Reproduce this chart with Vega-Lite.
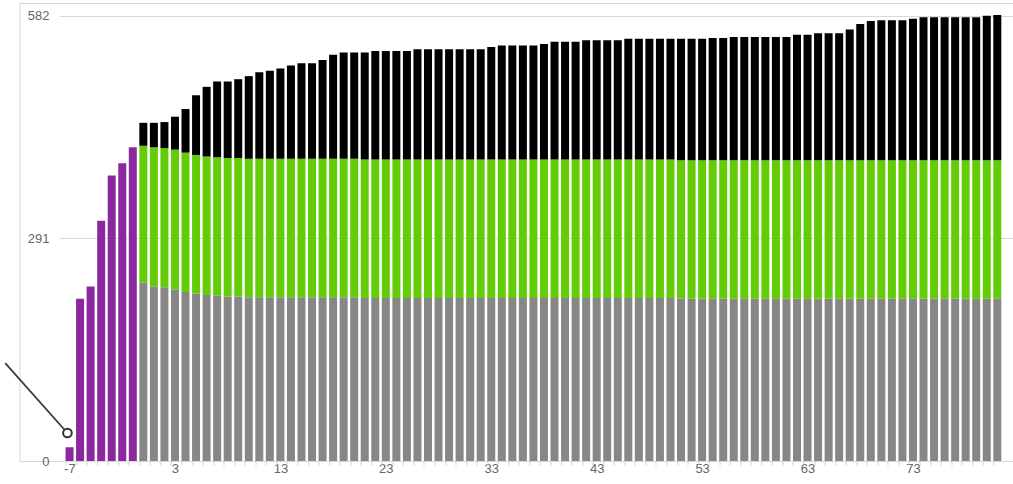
{
  "$schema": "https://vega.github.io/schema/vega-lite/v6.json",
  "width": 993.5,
  "height": 458,
  "autosize": {"type": "none"},
  "padding": {"left": 19.5, "top": 3, "right": 0, "bottom": 23},
  "config": {"view": {"stroke": "#d6d6d6", "strokeWidth": 1}, "font": "Liberation Sans"},
  "datasets": {
    "bars": [
      {"x":-7,"s":"pre","v":18},{"x":-6,"s":"pre","v":212},{"x":-5,"s":"pre","v":228},{"x":-4,"s":"pre","v":314},{"x":-3,"s":"pre","v":373},{"x":-2,"s":"pre","v":389},{"x":-1,"s":"pre","v":410},
      {"x":0,"s":"base","v":233},{"x":0,"s":"mid","v":179},{"x":0,"s":"top","v":30},
      {"x":1,"s":"base","v":228},{"x":1,"s":"mid","v":182},{"x":1,"s":"top","v":32},
      {"x":2,"s":"base","v":227},{"x":2,"s":"mid","v":182},{"x":2,"s":"top","v":34},
      {"x":3,"s":"base","v":224},{"x":3,"s":"mid","v":183},{"x":3,"s":"top","v":43},
      {"x":4,"s":"base","v":221},{"x":4,"s":"mid","v":182},{"x":4,"s":"top","v":57},
      {"x":5,"s":"base","v":219},{"x":5,"s":"mid","v":181},{"x":5,"s":"top","v":78},
      {"x":6,"s":"base","v":217},{"x":6,"s":"mid","v":181},{"x":6,"s":"top","v":91},
      {"x":7,"s":"base","v":216},{"x":7,"s":"mid","v":181},{"x":7,"s":"top","v":99},
      {"x":8,"s":"base","v":215},{"x":8,"s":"mid","v":181},{"x":8,"s":"top","v":100},
      {"x":9,"s":"base","v":215},{"x":9,"s":"mid","v":181},{"x":9,"s":"top","v":103},
      {"x":10,"s":"base","v":214},{"x":10,"s":"mid","v":181},{"x":10,"s":"top","v":108},
      {"x":11,"s":"base","v":214},{"x":11,"s":"mid","v":181},{"x":11,"s":"top","v":113},
      {"x":12,"s":"base","v":214},{"x":12,"s":"mid","v":181},{"x":12,"s":"top","v":115},
      {"x":13,"s":"base","v":214},{"x":13,"s":"mid","v":181},{"x":13,"s":"top","v":118},
      {"x":14,"s":"base","v":214},{"x":14,"s":"mid","v":181},{"x":14,"s":"top","v":122},
      {"x":15,"s":"base","v":214},{"x":15,"s":"mid","v":181},{"x":15,"s":"top","v":125},
      {"x":16,"s":"base","v":214},{"x":16,"s":"mid","v":181},{"x":16,"s":"top","v":125},
      {"x":17,"s":"base","v":214},{"x":17,"s":"mid","v":181},{"x":17,"s":"top","v":129},
      {"x":18,"s":"base","v":214},{"x":18,"s":"mid","v":181},{"x":18,"s":"top","v":136},
      {"x":19,"s":"base","v":214},{"x":19,"s":"mid","v":181},{"x":19,"s":"top","v":139},
      {"x":20,"s":"base","v":214},{"x":20,"s":"mid","v":181},{"x":20,"s":"top","v":139},
      {"x":21,"s":"base","v":213},{"x":21,"s":"mid","v":181},{"x":21,"s":"top","v":140},
      {"x":22,"s":"base","v":213},{"x":22,"s":"mid","v":181},{"x":22,"s":"top","v":142},
      {"x":23,"s":"base","v":213},{"x":23,"s":"mid","v":181},{"x":23,"s":"top","v":142},
      {"x":24,"s":"base","v":213},{"x":24,"s":"mid","v":181},{"x":24,"s":"top","v":142},
      {"x":25,"s":"base","v":213},{"x":25,"s":"mid","v":181},{"x":25,"s":"top","v":142},
      {"x":26,"s":"base","v":213},{"x":26,"s":"mid","v":181},{"x":26,"s":"top","v":144},
      {"x":27,"s":"base","v":213},{"x":27,"s":"mid","v":181},{"x":27,"s":"top","v":144},
      {"x":28,"s":"base","v":213},{"x":28,"s":"mid","v":181},{"x":28,"s":"top","v":144},
      {"x":29,"s":"base","v":213},{"x":29,"s":"mid","v":181},{"x":29,"s":"top","v":144},
      {"x":30,"s":"base","v":213},{"x":30,"s":"mid","v":181},{"x":30,"s":"top","v":144},
      {"x":31,"s":"base","v":213},{"x":31,"s":"mid","v":181},{"x":31,"s":"top","v":144},
      {"x":32,"s":"base","v":213},{"x":32,"s":"mid","v":181},{"x":32,"s":"top","v":144},
      {"x":33,"s":"base","v":213},{"x":33,"s":"mid","v":181},{"x":33,"s":"top","v":147},
      {"x":34,"s":"base","v":213},{"x":34,"s":"mid","v":181},{"x":34,"s":"top","v":149},
      {"x":35,"s":"base","v":213},{"x":35,"s":"mid","v":181},{"x":35,"s":"top","v":149},
      {"x":36,"s":"base","v":213},{"x":36,"s":"mid","v":181},{"x":36,"s":"top","v":149},
      {"x":37,"s":"base","v":213},{"x":37,"s":"mid","v":181},{"x":37,"s":"top","v":149},
      {"x":38,"s":"base","v":213},{"x":38,"s":"mid","v":181},{"x":38,"s":"top","v":151},
      {"x":39,"s":"base","v":213},{"x":39,"s":"mid","v":181},{"x":39,"s":"top","v":154},
      {"x":40,"s":"base","v":213},{"x":40,"s":"mid","v":181},{"x":40,"s":"top","v":154},
      {"x":41,"s":"base","v":213},{"x":41,"s":"mid","v":181},{"x":41,"s":"top","v":154},
      {"x":42,"s":"base","v":213},{"x":42,"s":"mid","v":181},{"x":42,"s":"top","v":156},
      {"x":43,"s":"base","v":213},{"x":43,"s":"mid","v":181},{"x":43,"s":"top","v":156},
      {"x":44,"s":"base","v":213},{"x":44,"s":"mid","v":181},{"x":44,"s":"top","v":156},
      {"x":45,"s":"base","v":213},{"x":45,"s":"mid","v":181},{"x":45,"s":"top","v":156},
      {"x":46,"s":"base","v":213},{"x":46,"s":"mid","v":181},{"x":46,"s":"top","v":158},
      {"x":47,"s":"base","v":213},{"x":47,"s":"mid","v":181},{"x":47,"s":"top","v":158},
      {"x":48,"s":"base","v":213},{"x":48,"s":"mid","v":181},{"x":48,"s":"top","v":158},
      {"x":49,"s":"base","v":213},{"x":49,"s":"mid","v":181},{"x":49,"s":"top","v":158},
      {"x":50,"s":"base","v":213},{"x":50,"s":"mid","v":181},{"x":50,"s":"top","v":158},
      {"x":51,"s":"base","v":212},{"x":51,"s":"mid","v":181},{"x":51,"s":"top","v":159},
      {"x":52,"s":"base","v":212},{"x":52,"s":"mid","v":181},{"x":52,"s":"top","v":159},
      {"x":53,"s":"base","v":212},{"x":53,"s":"mid","v":181},{"x":53,"s":"top","v":159},
      {"x":54,"s":"base","v":212},{"x":54,"s":"mid","v":181},{"x":54,"s":"top","v":160},
      {"x":55,"s":"base","v":212},{"x":55,"s":"mid","v":181},{"x":55,"s":"top","v":160},
      {"x":56,"s":"base","v":212},{"x":56,"s":"mid","v":181},{"x":56,"s":"top","v":161},
      {"x":57,"s":"base","v":212},{"x":57,"s":"mid","v":181},{"x":57,"s":"top","v":161},
      {"x":58,"s":"base","v":212},{"x":58,"s":"mid","v":181},{"x":58,"s":"top","v":161},
      {"x":59,"s":"base","v":212},{"x":59,"s":"mid","v":181},{"x":59,"s":"top","v":161},
      {"x":60,"s":"base","v":212},{"x":60,"s":"mid","v":181},{"x":60,"s":"top","v":161},
      {"x":61,"s":"base","v":212},{"x":61,"s":"mid","v":181},{"x":61,"s":"top","v":161},
      {"x":62,"s":"base","v":212},{"x":62,"s":"mid","v":181},{"x":62,"s":"top","v":164},
      {"x":63,"s":"base","v":212},{"x":63,"s":"mid","v":181},{"x":63,"s":"top","v":164},
      {"x":64,"s":"base","v":212},{"x":64,"s":"mid","v":181},{"x":64,"s":"top","v":166},
      {"x":65,"s":"base","v":212},{"x":65,"s":"mid","v":181},{"x":65,"s":"top","v":166},
      {"x":66,"s":"base","v":212},{"x":66,"s":"mid","v":181},{"x":66,"s":"top","v":166},
      {"x":67,"s":"base","v":212},{"x":67,"s":"mid","v":181},{"x":67,"s":"top","v":171},
      {"x":68,"s":"base","v":212},{"x":68,"s":"mid","v":181},{"x":68,"s":"top","v":178},
      {"x":69,"s":"base","v":212},{"x":69,"s":"mid","v":181},{"x":69,"s":"top","v":182},
      {"x":70,"s":"base","v":212},{"x":70,"s":"mid","v":181},{"x":70,"s":"top","v":183},
      {"x":71,"s":"base","v":212},{"x":71,"s":"mid","v":181},{"x":71,"s":"top","v":183},
      {"x":72,"s":"base","v":212},{"x":72,"s":"mid","v":181},{"x":72,"s":"top","v":183},
      {"x":73,"s":"base","v":212},{"x":73,"s":"mid","v":181},{"x":73,"s":"top","v":185},
      {"x":74,"s":"base","v":212},{"x":74,"s":"mid","v":181},{"x":74,"s":"top","v":187},
      {"x":75,"s":"base","v":212},{"x":75,"s":"mid","v":181},{"x":75,"s":"top","v":187},
      {"x":76,"s":"base","v":212},{"x":76,"s":"mid","v":181},{"x":76,"s":"top","v":187},
      {"x":77,"s":"base","v":212},{"x":77,"s":"mid","v":181},{"x":77,"s":"top","v":187},
      {"x":78,"s":"base","v":212},{"x":78,"s":"mid","v":181},{"x":78,"s":"top","v":187},
      {"x":79,"s":"base","v":212},{"x":79,"s":"mid","v":181},{"x":79,"s":"top","v":187},
      {"x":80,"s":"base","v":212},{"x":80,"s":"mid","v":181},{"x":80,"s":"top","v":189},
      {"x":81,"s":"base","v":212},{"x":81,"s":"mid","v":181},{"x":81,"s":"top","v":190}
    ],
    "note": [{"x": -7.2, "y": 36.6, "x0": -13.1, "y0": 128}]
  },
  "resolve": {"axis": {"x": "independent"}},
  "layer": [
    {
      "data": {"name": "bars"},
      "mark": {"type": "bar", "size": 8},
      "encoding": {
        "x": {
          "field": "x", "type": "quantitative",
          "scale": {"domain": [-11.272, 82.014], "nice": false, "zero": false},
          "axis": {
            "orient": "bottom",
            "values": [-7, 3, 13, 23, 33, 43, 53, 63, 73],
            "labelExpr": "'' + datum.value",
            "title": null, "domain": false, "grid": false, "ticks": false,
            "tickSize": 4, "labelPadding": 1, "labelColor": "#666666", "labelFontSize": 13,
            "labelFont": "Liberation Sans", "labelFlush": false, "labelOverlap": false
          }
        },
        "y": {
          "field": "v", "type": "quantitative", "stack": "zero",
          "scale": {"domain": [0, 598.6], "nice": false},
          "axis": {
            "values": [0, 291, 582], "title": null, "domain": false,
            "ticks": false, "tickSize": 0, "labelPadding": -29.5,
            "labelAlign": "right", "labelBaseline": "middle",
            "labelColor": "#666666", "labelFontSize": 13, "labelFont": "Liberation Sans",
            "labelFlush": false, "grid": true, "gridColor": "#d9d9d9",
            "gridDash": [0, 40, 3000]
          }
        },
        "color": {
          "field": "s", "type": "nominal",
          "scale": {"domain": ["pre", "base", "mid", "top"], "range": ["#8b28a0", "#878787", "#62cc06", "#000000"]},
          "legend": null
        },
        "order": {"field": "s", "type": "ordinal", "sort": "ascending"}
      }
    },
    {
      "data": {"name": "note"},
      "mark": {"type": "rule", "stroke": "#3a3a3a", "strokeWidth": 1.8},
      "encoding": {
        "x": {
          "field": "x", "type": "quantitative",
          "scale": {"domain": [-11.272, 82.014], "nice": false, "zero": false},
          "axis": {
            "orient": "bottom",
            "values": [-7,-6,-5,-4,-3,-2,-1,0,1,2,3,4,5,6,7,8,9,10,11,12,13,14,15,16,17,18,19,20,21,22,23,24,25,26,27,28,29,30,31,32,33,34,35,36,37,38,39,40,41,42,43,44,45,46,47,48,49,50,51,52,53,54,55,56,57,58,59,60,61,62,63,64,65,66,67,68,69,70,71,72,73,74,75,76,77,78,79,80,81],
            "labels": false, "title": null, "domain": false, "grid": false,
            "ticks": true, "tickSize": 4, "tickColor": "#cfcfcf", "tickWidth": 1, "tickOffset": -4
          }
        },
        "x2": {"field": "x0"},
        "y": {"field": "y", "type": "quantitative", "scale": {"domain": [0, 598.6], "nice": false}},
        "y2": {"field": "y0"}
      }
    },
    {
      "data": {"name": "note"},
      "mark": {"type": "point", "shape": "circle", "filled": true, "fill": "#ffffff", "stroke": "#333333", "strokeWidth": 2, "size": 75, "opacity": 1},
      "encoding": {
        "x": {"field": "x", "type": "quantitative", "scale": {"domain": [-11.272, 82.014], "nice": false, "zero": false}, "axis": null},
        "y": {"field": "y", "type": "quantitative", "scale": {"domain": [0, 598.6], "nice": false}}
      }
    }
  ]
}
